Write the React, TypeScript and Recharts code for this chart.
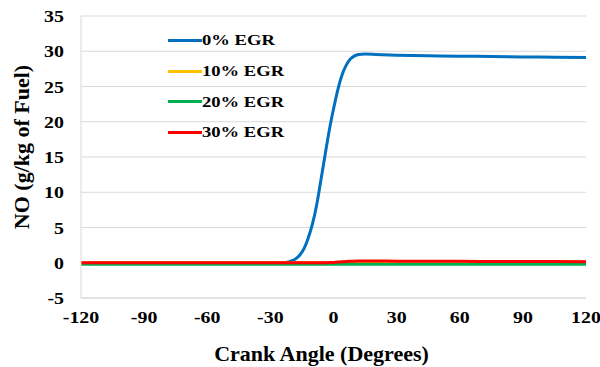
import React from "react";
import { CartesianGrid, Label, Line, LineChart, XAxis, YAxis } from "recharts";

// crank angle (deg) and NO per case (g/kg of fuel)
const crankAngle = [
  -120, -90, -60, -40, -30, -26, -24, -22, -20, -18, -16, -14, -12, -10, -8, -6, -4, -2, 0, 2, 4, 6, 8, 10, 12, 15,
  20, 30, 45, 60, 75, 90, 105, 120,
];
const egr0 = [
  0, 0, 0, 0, 0, 0, 0.02, 0.08, 0.25, 0.55, 1.1, 2.0, 3.5, 5.5, 8.2, 11.7, 15.3, 18.8, 21.8, 24.5, 26.6, 28.0, 28.9,
  29.35, 29.55, 29.6, 29.55, 29.45, 29.35, 29.3, 29.25, 29.2, 29.15, 29.1,
];
const egr10 = [
  0, 0, 0, 0, 0, 0, 0, 0, 0, 0, 0, 0, 0, 0, 0, 0, 0, 0.01, 0.03, 0.05, 0.07, 0.09, 0.1, 0.12, 0.13, 0.14, 0.14, 0.13,
  0.12, 0.12, 0.11, 0.1, 0.1, 0.1,
];
const egr20 = [
  -0.2, -0.2, -0.2, -0.2, -0.2, -0.2, -0.2, -0.2, -0.2, -0.2, -0.2, -0.2, -0.2, -0.2, -0.2, -0.2, -0.2, -0.2, -0.2,
  -0.2, -0.2, -0.2, -0.2, -0.2, -0.2, -0.2, -0.2, -0.2, -0.2, -0.2, -0.2, -0.2, -0.2, -0.2,
];
const egr30 = [
  0, 0, 0, 0, 0, 0, 0, 0, 0, 0, 0, 0, 0, 0, 0, 0, 0, 0.02, 0.05, 0.09, 0.13, 0.17, 0.2, 0.23, 0.25, 0.26, 0.25, 0.22,
  0.2, 0.2, 0.18, 0.17, 0.16, 0.15,
];
const xTicks = [-120, -90, -60, -30, 0, 30, 60, 90, 120];
const yTicks = [-5, 0, 5, 10, 15, 20, 25, 30, 35];

const series = [
  { key: "egr0", name: "0% EGR", color: "#0070C0", values: egr0 },
  { key: "egr10", name: "10% EGR", color: "#FFC000", values: egr10 },
  { key: "egr20", name: "20% EGR", color: "#00B050", values: egr20 },
  { key: "egr30", name: "30% EGR", color: "#FF0000", values: egr30 },
];

const data = crankAngle.map((angle, i) => {
  const row: Record<string, number> = { angle };
  series.forEach((s) => (row[s.key] = s.values[i]));
  return row;
});

const FONT = "'Liberation Serif', 'Times New Roman', serif";

function XTick({ x, y, payload }: any) {
  return (
    <text
      transform={`translate(${x},${y + 17}) scale(1.17,1)`}
      textAnchor="middle"
      fontFamily={FONT}
      fontWeight="bold"
      fontSize={17}
      fill="#000"
    >
      {payload.value}
    </text>
  );
}

function YTick({ x, y, payload }: any) {
  return (
    <text
      transform={`translate(${x - 9},${y + 6}) scale(1.17,1)`}
      textAnchor="end"
      fontFamily={FONT}
      fontWeight="bold"
      fontSize={17}
      fill="#000"
    >
      {payload.value}
    </text>
  );
}

function YTitle({ viewBox }: any) {
  const cx = 21;
  const cy = viewBox.y + viewBox.height / 2 - 10;
  return (
    <text
      transform={`translate(${cx},${cy}) rotate(-90)`}
      textAnchor="middle"
      dominantBaseline="central"
      fontFamily={FONT}
      fontWeight="bold"
      fontSize={22}
      fill="#000"
    >
      NO (g/kg of Fuel)
    </text>
  );
}

function LegendBox() {
  return (
    <div
      style={{
        position: "absolute",
        left: 168,
        top: 25,
        fontFamily: FONT,
        fontWeight: "bold",
        fontSize: 15.5,
        color: "#000",
      }}
    >
      {series.map((s) => (
        <div key={s.key} style={{ display: "flex", alignItems: "center", height: 30.7 }}>
          <span style={{ width: 34, height: 3, background: s.color, display: "inline-block" }} />
          <span style={{ display: "inline-block", transform: "scaleX(1.2)", transformOrigin: "left center" }}>
            {s.name}
          </span>
        </div>
      ))}
    </div>
  );
}

export default function App() {
  return (
    <div style={{ position: "absolute", left: 0, top: 0, width: 600, height: 367, background: "#fff" }}>
      <LineChart width={600} height={367} data={data} margin={{ top: 16, right: 14, left: 0, bottom: 0 }}>
        <CartesianGrid stroke="#d9d9d9" vertical={false} />
        <XAxis
          dataKey="angle"
          type="number"
          domain={[-120, 120]}
          ticks={xTicks}
          height={69}
          tickLine={false}
          axisLine={{ stroke: "#d9d9d9" }}
          tick={<XTick />}
          interval={0}
        >
          <Label
            value="Crank Angle (Degrees)"
            position="insideBottom"
            offset={6}
            dx={-12}
            style={{ fontFamily: FONT, fontWeight: "bold", fontSize: 22, fill: "#000" }}
          />
        </XAxis>
        <YAxis
          type="number"
          domain={[-5, 35]}
          ticks={yTicks}
          width={81}
          tickLine={false}
          axisLine={{ stroke: "#d9d9d9" }}
          tick={<YTick />}
          interval={0}
        >
          <Label content={<YTitle />} />
        </YAxis>
        {series.map((s) => (
          <Line
            key={s.key}
            type="monotone"
            dataKey={s.key}
            name={s.name}
            stroke={s.color}
            strokeWidth={3}
            dot={false}
            isAnimationActive={false}
          />
        ))}
      </LineChart>
      <LegendBox />
    </div>
  );
}
